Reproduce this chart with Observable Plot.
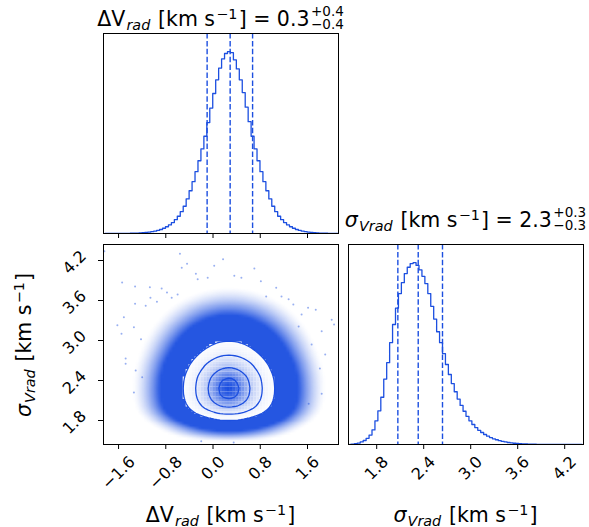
<!DOCTYPE html>
<html><head><meta charset="utf-8">
<script src="https://cdn.jsdelivr.net/npm/d3@7"></script>
<script src="https://cdn.jsdelivr.net/npm/@observablehq/plot@0.6"></script>
<style>
body{margin:0;background:#fff;}
#wrap{position:relative;width:589px;height:527px;overflow:hidden;background:#fff;}
.panel{position:absolute;}
#ov{position:absolute;left:0;top:0;pointer-events:none;}
</style></head><body><div id="wrap"></div>
<script>
// ---------------- data ----------------
const dvDomain = [-1.855, 2.125];
const sigDomain = [1.44, 4.44];
const dvTicks = [-1.6, -0.8, 0.0, 0.8, 1.6];
const sigTicks = [1.8, 2.4, 3.0, 3.6, 4.2];
const dvBinStart = -1.855, dvBinWidth = 0.05;
const dvHist = [0.0002,0.0002,0.0003,0.0003,0.0004,0.0005,0.0006,0.0008,0.0011,0.0014,
 0.0019,0.0025,0.0033,0.0043,0.0057,0.0075,0.0098,0.013,0.017,0.022,
 0.029,0.037,0.047,0.06,0.076,0.095,0.12,0.15,0.19,0.235,
 0.285,0.34,0.40,0.465,0.535,0.61,0.69,0.77,0.845,0.91,
 0.96,0.99,1.0,0.995,0.955,0.905,0.845,0.775,0.695,0.615,
 0.535,0.465,0.40,0.34,0.285,0.235,0.19,0.15,0.12,0.095,
 0.076,0.06,0.047,0.037,0.029,0.022,0.017,0.013,0.0098,0.0075,
 0.0057,0.0043,0.0033,0.0025,0.0019,0.0014,0.0011,0.0008,0.0006,0.0005];
const sigBinStart = 1.44, sigBinWidth = 0.0375;
const sigHist = [0.001,0.002,0.0045,0.008,0.014,0.022,0.034,0.052,0.08,0.13,
 0.185,0.26,0.36,0.45,0.56,0.66,0.75,0.83,0.89,0.94,
 0.975,0.995,1.0,0.985,0.96,0.925,0.885,0.83,0.76,0.69,
 0.62,0.56,0.50,0.44,0.385,0.335,0.29,0.25,0.215,0.183,
 0.155,0.13,0.11,0.093,0.078,0.066,0.055,0.046,0.038,0.031,
 0.026,0.021,0.017,0.014,0.011,0.009,0.007,0.0055,0.0044,0.0035,
 0.0028,0.0022,0.0017,0.0014,0.0011,0.0009,0.0007,0.0005,0.0004,0.0003,
 0.0002,0.0002,0.0001,0.0001,0.0001,0.0001,0,0,0,0];
const dvQuantiles = [-0.10, 0.29, 0.67];
const sigQuantiles = [2.07, 2.33, 2.64];
const sigmaLevels = [0.5, 1, 1.5, 2];
const outlierDV  = [-0.56,-0.53,-0.44,0.02,-1.54,-1.32,-1.07,-0.87,-1.32,-1.14,-1.06,-1.51,-1.62,-1.55,-1.34,-0.26,-0.09,-0.29,-1.84,-0.70,-0.60,0.70,0.81,1.07,0.90,1.16,0.48,0.36,1.61,1.74,1.50,2.01,2.05,1.84,1.90,1.67,0.17,1.36,1.81,1.84,-1.48,-1.34,-1.48,-1.20,-1.31,-0.20,0.35,-0.95,-0.78,1.28,1.45,-1.22,1.62];
const outlierSig = [4.30,4.09,4.15,4.12,3.87,3.81,3.80,3.78,3.55,3.52,3.64,3.35,3.23,3.10,3.20,3.92,3.94,4.00,4.34,3.64,3.69,4.08,3.89,3.79,3.66,3.66,3.94,3.97,3.49,3.46,3.39,3.31,3.24,3.14,2.79,2.94,4.22,3.54,2.58,2.20,2.65,2.22,2.73,2.45,2.55,1.49,1.47,3.58,3.72,3.62,3.21,3.02,2.05];
const titleDV = {name: "ΔV", sub: "rad", value: "0.3", plus: "+0.4", minus: "−0.4"};
const titleSig = {name: "σ", sub: "Vrad", value: "2.3", plus: "+0.3", minus: "−0.3"};
const unitText = " [km s";
const unitExp = "−1";

// ---------------- helpers ----------------
const blue = "#1c4fe0";
const wrap = document.getElementById("wrap");
function place(el, left, top){
  const d = document.createElement("div");
  d.className = "panel"; d.style.left = left + "px"; d.style.top = top + "px";
  d.appendChild(el); wrap.appendChild(d);
}
const PW = 235, PH = 200;
const TF = 16;
const style = {fontFamily: '"DejaVu Sans", sans-serif', fontSize: TF + "px", background: "transparent", overflow: "visible", maxWidth: "none", color: "black"};
const fmt = d3.format(".1f");
const ctx = document.createElement("canvas").getContext("2d");
ctx.font = TF + 'px "DejaVu Sans"';
const boxSize = s => (ctx.measureText(s).width + 1.164 * TF) / Math.SQRT2;

function xLabels(ticks){
  return ticks.map(t => Plot.text([t], {x: d => d, frameAnchor: "bottom", text: d => fmt(d), rotate: -45,
    textAnchor: "middle", lineAnchor: "middle", dy: 8 + boxSize(fmt(t)) / 2, fontSize: TF, fill: "black"}));
}
function yLabels(ticks){
  return ticks.map(t => Plot.text([t], {y: d => d, frameAnchor: "left", text: d => fmt(d), rotate: -45,
    textAnchor: "middle", lineAnchor: "middle", dx: -29, dy: 2, fontSize: TF, fill: "black"}));
}

const dvRows = dvHist.map((v, i) => ({x: dvBinStart + (i + 0.5) * dvBinWidth, y: v}));
const sigRows = sigHist.map((v, i) => ({x: sigBinStart + (i + 0.5) * sigBinWidth, y: v}));

// ---- 2D density: radial profile from the ΔV histogram, axes mapped through both marginals ----
const W = dvHist.length, H = sigHist.length;
const pk = d3.maxIndex(dvHist);
const prof = dvHist.slice(pk);
function pAt(r){
  const k = r / dvBinWidth, k0 = Math.floor(k);
  if (k0 >= prof.length - 1) return 0;
  const t = k - k0;
  return Math.exp(Math.log(prof[k0]) * (1 - t) + Math.log(prof[k0 + 1]) * t);
}
function pInv(h){
  if (h <= 0) return Infinity;
  if (h >= prof[0]) return 0;
  for (let k = 0; k < prof.length - 1; ++k){
    if (h <= prof[k] && h >= prof[k + 1]){
      const a = Math.log(prof[k]), b = Math.log(prof[k + 1]);
      return (k + (a - Math.log(h)) / (a - b || 1)) * dvBinWidth;
    }
  }
  return prof.length * dvBinWidth;
}
const xc = dvHist.map((v, i) => dvBinStart + (i + 0.5) * dvBinWidth);
const yc = sigHist.map((v, j) => sigBinStart + (j + 0.5) * sigBinWidth);
const x0 = xc[pk], y0 = yc[d3.maxIndex(sigHist)];
const U = dvHist.map((h, i) => Math.sign(xc[i] - x0) * pInv(h));
const V = sigHist.map((h, j) => Math.sign(yc[j] - y0) * pInv(h));
const gridRaw = new Array(W * H);
for (let j = 0; j < H; ++j) for (let i = 0; i < W; ++i){
  const r = Math.hypot(U[i], V[j]);
  gridRaw[j * W + i] = isFinite(r) ? pAt(r) : 0;
}
const gmax = d3.max(gridRaw);
const grid = gridRaw.map(v => v / gmax);
// density levels of the sigma contours (Gaussian relation)
const levels = sigmaLevels.map(s => Math.exp(-0.5 * s * s));
const tOuter = levels[levels.length - 1];
const gridOpts = {width: W, height: H, x1: dvBinStart, x2: dvBinStart + W * dvBinWidth,
  y1: sigBinStart, y2: sigBinStart + H * sigBinWidth, clip: true};
const mix = d3.interpolateRgb("#ffffff", blue);
const cells = [];
for (let j = 0; j < H; ++j) for (let i = 0; i < W; ++i){
  const f = grid[j * W + i];
  if (f >= tOuter){
    cells.push({x1: dvBinStart + i * dvBinWidth, x2: dvBinStart + (i + 1) * dvBinWidth,
      y1: sigBinStart + j * sigBinWidth, y2: sigBinStart + (j + 1) * sigBinWidth, c: mix(f * f)});
  }
}
// opacity of the scattered-sample cloud as a function of density
const lo = Math.log(0.0015), hi = Math.log(0.02);
const cloudAlpha = f => f <= 0 ? 0 : 0.96 * Math.pow(Math.max(0, Math.min(1, (Math.log(f) - lo) / (hi - lo))), 1.6);

// ---------------- panel A: ΔV histogram ----------------
const pA = Plot.plot({
  width: PW + 20, height: PH + 20, marginTop: 10, marginRight: 10, marginBottom: 10, marginLeft: 10,
  style,
  x: {domain: dvDomain, label: null}, y: {domain: [0, 1.1], axis: null, label: null},
  marks: [
    Plot.lineY(dvRows, {x: "x", y: "y", curve: "step", stroke: blue, strokeWidth: 1.3, clip: true}),
    Plot.ruleX(dvQuantiles, {stroke: blue, strokeDasharray: "5.5,2.4", strokeWidth: 1.4}),
    Plot.axisX({ticks: dvTicks, tickSize: 5, tickFormat: () => "", stroke: "black", label: null}),
    Plot.frame({stroke: "black", strokeWidth: 1})
  ]
});
place(pA, 93, 23);

// ---------------- panel B: 2D ----------------
const pB = Plot.plot({
  width: PW + 70, height: PH + 70, marginTop: 10, marginRight: 10, marginBottom: 60, marginLeft: 60,
  style,
  x: {domain: dvDomain, label: null}, y: {domain: sigDomain, label: null},
  color: {type: "identity"},
  opacity: {type: "linear", domain: [0, 1], range: [0, 1]},
  marks: [
    Plot.raster(grid, {...gridOpts, fill: blue, fillOpacity: d => cloudAlpha(d)}),
    Plot.dot(outlierDV.map((x, i) => ({x, y: outlierSig[i]})), {x: "x", y: "y", r: 1, fill: blue, fillOpacity: 0.45, stroke: "none", clip: true}),
    Plot.contour(grid, {...gridOpts, value: Plot.identity, thresholds: [tOuter], fill: "white", stroke: "none"}),
    Plot.rect(cells, {x1: "x1", x2: "x2", y1: "y1", y2: "y2", fill: "c"}),
    ...levels.map(t => Plot.contour(grid, {...gridOpts, value: Plot.identity, thresholds: [t], fill: "none", stroke: blue, strokeWidth: 1.3})),
    Plot.axisX({ticks: dvTicks, tickSize: 5, tickFormat: () => "", stroke: "black", label: null}),
    Plot.axisY({ticks: sigTicks, tickSize: 5, tickFormat: () => "", stroke: "black", label: null}),
    ...xLabels(dvTicks),
    ...yLabels(sigTicks),
    Plot.frame({stroke: "black", strokeWidth: 1})
  ]
});
place(pB, 43, 234);

// ---------------- panel C: σ histogram ----------------
const pC = Plot.plot({
  width: PW + 16, height: PH + 70, marginTop: 10, marginRight: 6, marginBottom: 60, marginLeft: 10,
  style,
  x: {domain: sigDomain, label: null}, y: {domain: [0, 1.1], axis: null, label: null},
  marks: [
    Plot.lineY(sigRows, {x: "x", y: "y", curve: "step", stroke: blue, strokeWidth: 1.3, clip: true}),
    Plot.ruleX(sigQuantiles, {stroke: blue, strokeDasharray: "5.5,2.4", strokeWidth: 1.4}),
    Plot.axisX({ticks: sigTicks, tickSize: 5, tickFormat: () => "", stroke: "black", label: null}),
    ...xLabels(sigTicks),
    Plot.frame({stroke: "black", strokeWidth: 1})
  ]
});
place(pC, 338, 234);

// ---------------- text overlay ----------------
const ov = d3.select(wrap).append("svg").attr("id", "ov").attr("width", 589).attr("height", 527);
function mathText(parts, stack, size, x, y, rotate){
  const g = ov.append("g").attr("font-family", '"DejaVu Sans", sans-serif').attr("fill", "black").style("white-space", "pre");
  const t = g.append("text").attr("font-size", size);
  let cur = 0, prevScript = false;
  for (const p of parts){
    const sz = p.s ? size * 0.7 : size;
    const off = p.s === "sub" ? size * 0.17 : p.s === "sup" ? -size * 0.34 : 0;
    t.append("tspan").attr("font-size", sz).attr("font-style", p.i ? "italic" : "normal")
      .attr("dy", off - cur).attr("dx", prevScript || p.s ? size * 0.06 : 0).text(p.t);
    cur = off; prevScript = !!p.s;
  }
  const bb = t.node().getBBox();
  const wEnd = bb.x + bb.width;
  let tot = wEnd;
  if (stack){
    const ss = size * 0.66;
    const a = g.append("text").attr("x", wEnd + 1.5).attr("y", -size * 0.47).attr("font-size", ss).text(stack[0]);
    const b = g.append("text").attr("x", wEnd + 1.5).attr("y", size * 0.16).attr("font-size", ss).text(stack[1]);
    tot = wEnd + 1.5 + Math.max(a.node().getComputedTextLength(), b.node().getComputedTextLength());
  }
  g.attr("transform", rotate ? `translate(${x},${y}) rotate(-90) translate(${-tot / 2},0)` : `translate(${x - tot / 2},${y})`);
}
const FS = 20.5;
function label(tt, italicName){
  return [{t: tt.name, i: italicName}, {t: tt.sub, s: "sub", i: true}, {t: unitText}, {t: unitExp, s: "sup"}, {t: "]"}];
}
mathText([...label(titleDV, false).slice(0, 4), {t: "] = " + titleDV.value}], [titleDV.plus, titleDV.minus], FS, 220.5, 26);
mathText([...label(titleSig, true).slice(0, 4), {t: "] = " + titleSig.value}], [titleSig.plus, titleSig.minus], FS, 465.5, 227);
mathText(label(titleDV, false), null, FS, 220.5, 522);
mathText(label(titleSig, true), null, FS, 465.5, 522);
mathText(label(titleSig, true), null, FS, 31, 345, true);
</script></body></html>
